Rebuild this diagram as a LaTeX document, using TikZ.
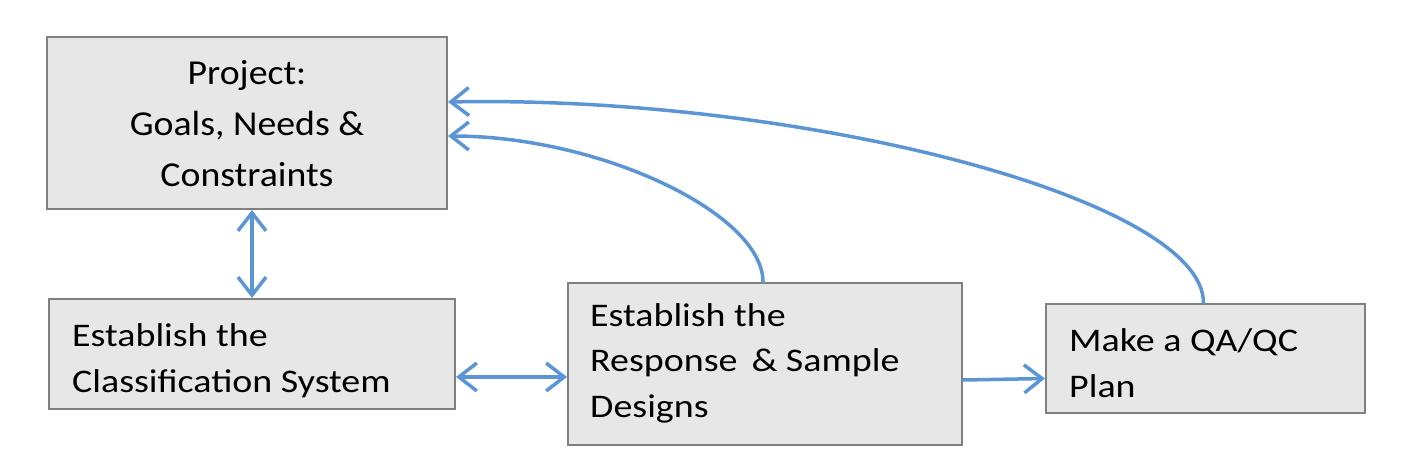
\documentclass[tikz,border=0pt]{standalone}
\usepackage{fontspec}
\setmainfont[FakeStretch=1.15]{Carlito}
\newfontfamily\projfont[FakeStretch=1.08]{Carlito}
\usetikzlibrary{arrows.meta,positioning}

\definecolor{boxfill}{HTML}{E7E7E7}
\definecolor{boxline}{HTML}{808080}
\definecolor{linkblue}{HTML}{5B95D5}

\tikzset{
  box/.style={rectangle, draw=boxline, fill=boxfill, line width=2pt, inner sep=0pt},
  boxtext/.style={inner sep=0pt, align=left, font=\fontsize{33}{45.5}\selectfont},
  link/.style={draw=linkblue, line width=3.5pt, line cap=round},
}

\begin{document}
\begin{tikzpicture}
  [x=1pt,y=-1pt,>={Straight Barb[length=18pt,width=28pt]}]
  \useasboundingbox (0,0) rectangle (1402,476);
  \node[box, minimum width=400pt, minimum height=172pt] (proj) at (247,123) {};
  \node[box, minimum width=406pt, minimum height=110pt] (cls) at (252,354) {};
  \node[box, minimum width=394pt, minimum height=162pt] (resp) at (765,364) {};
  \node[box, minimum width=319pt, minimum height=109pt] (qa) at (1205.5,358.5) {};

  % base = baseline of the last line
  \node[boxtext, align=center, anchor=base, font=\projfont\fontsize{35}{51}\selectfont] (projtxt) at ([yshift=-150pt]proj.north) {Project:\\Goals, Needs \&\\Constraints};
  \node[boxtext, anchor=base west] (clstxt) at ([xshift=24pt,yshift=-94pt]cls.north west) {Establish the\\Classification System};
  \node[boxtext, anchor=base west] (resptxt) at ([xshift=23pt,yshift=-135pt]resp.north west) {Establish the\\Response \,\& Sample\\Designs};
  \node[boxtext, anchor=base west] (qatxt) at ([xshift=24pt,yshift=-94pt]qa.north west) {Make a QA/QC\\Plan};

  \draw[link, <->] (cls.north) -- (cls.north |- proj.south);
  \draw[link, <->] ([yshift=-23pt]cls.east) -- ([yshift=-23pt]cls.east -| resp.west);
  \draw[link, ->] ([yshift=-16pt]resp.east) -- ([yshift=-20pt]qa.west);
  \draw[link, ->] ([xshift=-2pt]resp.north) .. controls +(0,-68) and +(153,0) .. ([yshift=-13pt]proj.east);
  \draw[link, ->] ([xshift=-2pt]qa.north) .. controls +(0,-104) and +(353,-7) .. ([yshift=21pt]proj.east);
\end{tikzpicture}
\end{document}
